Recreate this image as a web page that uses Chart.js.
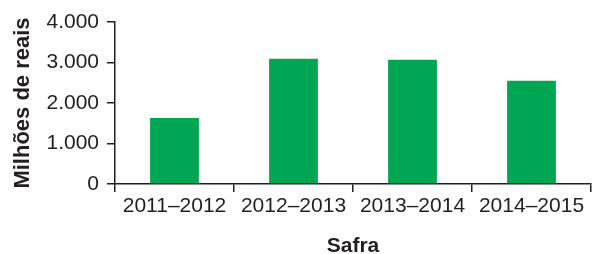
<!DOCTYPE html>
<html>
<head>
<meta charset="utf-8">
<script src="https://cdn.jsdelivr.net/npm/chart.js@4"></script>
<style>
  html, body { margin: 0; padding: 0; background: #fff; }
  #wrap { width: 592px; height: 254px; }
</style>
</head>
<body>
<div id="wrap"><canvas id="bar-chart" width="592" height="254"></canvas></div>
<script>
const safras = ['2011\u20132012', '2012\u20132013', '2013\u20132014', '2014\u20132015'];
const valores = [1630, 3090, 3070, 2550];
const yTicks = [0, 1000, 2000, 3000, 4000];

const ink = '#231f20';
const fonte = '"Liberation Sans", Arial, Helvetica, sans-serif';

new Chart(document.getElementById('bar-chart'), {
  type: 'bar',
  data: {
    labels: safras,
    datasets: [{
      data: valores,
      backgroundColor: '#00a651',
      borderWidth: 0,
      categoryPercentage: 1,
      barPercentage: 0.41
    }]
  },
  options: {
    responsive: false,
    animation: false,
    layout: { padding: { top: 22, right: 1, bottom: 0, left: 0 } },
    plugins: { legend: { display: false }, tooltip: { enabled: false } },
    scales: {
      x: {
        grid: { drawOnChartArea: false, tickLength: 8, color: ink, lineWidth: 1.5, offset: true },
        border: { color: ink, width: 1.5 },
        ticks: { color: ink, font: { family: fonte, size: 21 }, padding: 2, maxRotation: 0 },
        title: {
          display: true, text: 'Safra', color: ink,
          font: { family: fonte, size: 21, weight: 'bold', lineHeight: 0.7 },
          padding: 0
        },
        afterFit: s => { s.height = 70; }
      },
      y: {
        min: 0, max: 4000,
        afterBuildTicks: s => { s.ticks = yTicks.map(v => ({ value: v })); },
        grid: { drawOnChartArea: false, tickLength: 8, color: ink, lineWidth: 1.5 },
        border: { color: ink, width: 1.5 },
        ticks: {
          color: ink, font: { family: fonte, size: 21 }, padding: 8,
          callback: v => String(v).replace(/\B(?=(\d{3})+(?!\d))/g, '.')
        },
        title: {
          display: true, text: 'Milhões de reais', color: ink,
          font: { family: fonte, size: 22, weight: 'bold' },
          padding: { top: 10, bottom: 0 }
        },
        afterFit: s => { s.width = 115; }
      }
    }
  }
});
</script>
</body>
</html>
